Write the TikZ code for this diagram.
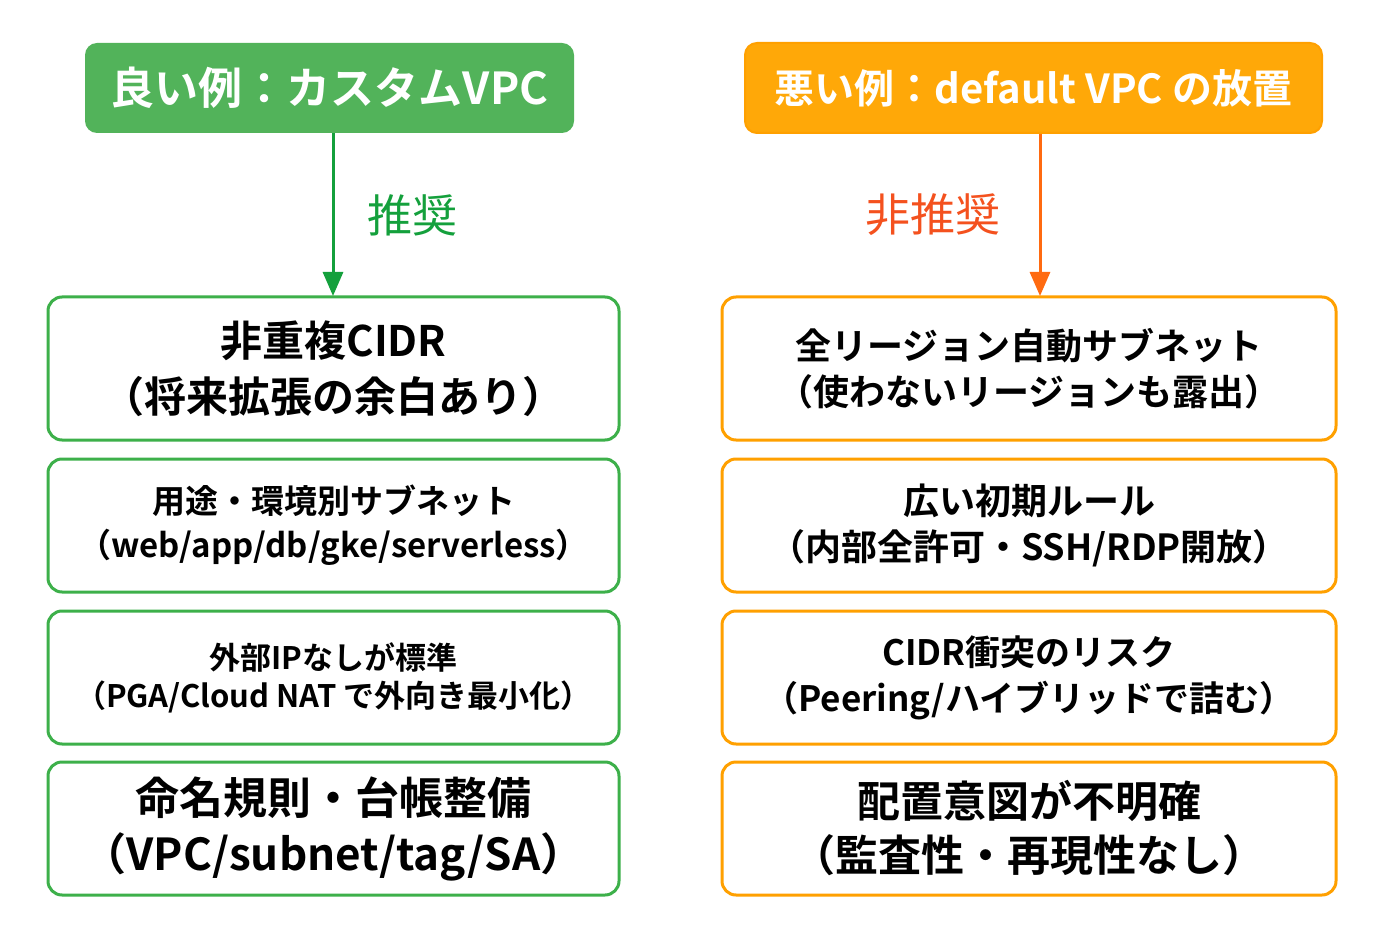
\documentclass[tikz,border=0pt]{standalone}
\usepackage{fontspec}
\setmainfont{Noto Sans CJK JP}[BoldFont={Noto Sans CJK JP Bold}]
\usetikzlibrary{arrows.meta}
\definecolor{gfill}{HTML}{52B35A}
\definecolor{gline}{HTML}{3DB04A}
\definecolor{garrow}{HTML}{14A03C}
\definecolor{ofill}{HTML}{FFA808}
\definecolor{oline}{HTML}{FFA000}
\definecolor{oarrow}{HTML}{FF6A10}
\definecolor{olabel}{HTML}{F4511E}
\begin{document}
\begin{tikzpicture}[x=1pt,y=-1pt,
  hdr/.style={rounded corners=12pt, minimum height=90pt, text=white, font=\bfseries\fontsize{44}{52}\selectfont, inner sep=0pt},
  gbox/.style={draw=gline, line width=3pt, rounded corners=14pt, fill=white, minimum width=571pt, align=center, inner sep=0pt},
  obox/.style={draw=oline, line width=3pt, rounded corners=14pt, fill=white, minimum width=614pt, align=center, inner sep=0pt},
  garr/.style={draw=garrow, line width=3pt, -{Triangle[length=24pt,width=20pt]}},
  oarr/.style={draw=oarrow, line width=3pt, -{Triangle[length=24pt,width=20pt]}},
  lbl/.style={font=\fontsize{45}{50}\selectfont, inner sep=0pt}
]
\useasboundingbox[fill=white] (0,0) rectangle (1400,933);
% headers
\node[hdr, fill=gfill, minimum width=489pt] (hdrL) at (329.5,88) {良い例：カスタムVPC};
\node[hdr, fill=ofill, draw=oline, line width=2pt, minimum width=577pt, font=\bfseries\fontsize{40}{52}\selectfont] (hdrR) at (1033.5,88) {悪い例：default VPC の放置};
% left boxes
\node[gbox, minimum height=143pt, font=\bfseries\fontsize{42}{56}\selectfont] (L1) at (333.5,368.5) {非重複CIDR\\（将来拡張の余白あり）};
\node[gbox, minimum height=133pt, font=\bfseries\fontsize{33}{44}\selectfont] (L2) at (333.5,525.5) {用途・環境別サブネット\\（web/app/db/gke/serverless）};
\node[gbox, minimum height=133pt, font=\bfseries\fontsize{31}{38}\selectfont] (L3) at (333.5,677.5) {外部IPなしが標準\\（PGA/Cloud NAT で外向き最小化）};
\node[gbox, minimum height=133pt, font=\bfseries\fontsize{44}{56}\selectfont] (L4) at (333.5,828.5) {命名規則・台帳整備\\（VPC/subnet/tag/SA）};
% right boxes
\node[obox, minimum height=143pt, font=\bfseries\fontsize{36}{46}\selectfont] (R1) at (1029,368.5) {全リージョン自動サブネット\\（使わないリージョンも露出）};
\node[obox, minimum height=133pt, font=\bfseries\fontsize{36}{46}\selectfont] (R2) at (1029,525.5) {広い初期ルール\\（内部全許可・SSH/RDP開放）};
\node[obox, minimum height=133pt, font=\bfseries\fontsize{35}{46}\selectfont] (R3) at (1029,677.5) {CIDR衝突のリスク\\（Peering/ハイブリッドで詰む）};
\node[obox, minimum height=133pt, font=\bfseries\fontsize{43}{54}\selectfont] (R4) at (1029,828.5) {配置意図が不明確\\（監査性・再現性なし）};
% arrows
\coordinate (aL) at (333,296);
\coordinate (aR) at (1040,296);
\draw[garr] (hdrL.south -| aL) -- (aL);
\draw[oarr] (hdrR.south -| aR) -- (aR);
\node[lbl, text=garrow] (tL) at (412,215) {推奨};
\node[lbl, text=olabel] (tR) at (933,215) {非推奨};
\end{tikzpicture}
\end{document}
